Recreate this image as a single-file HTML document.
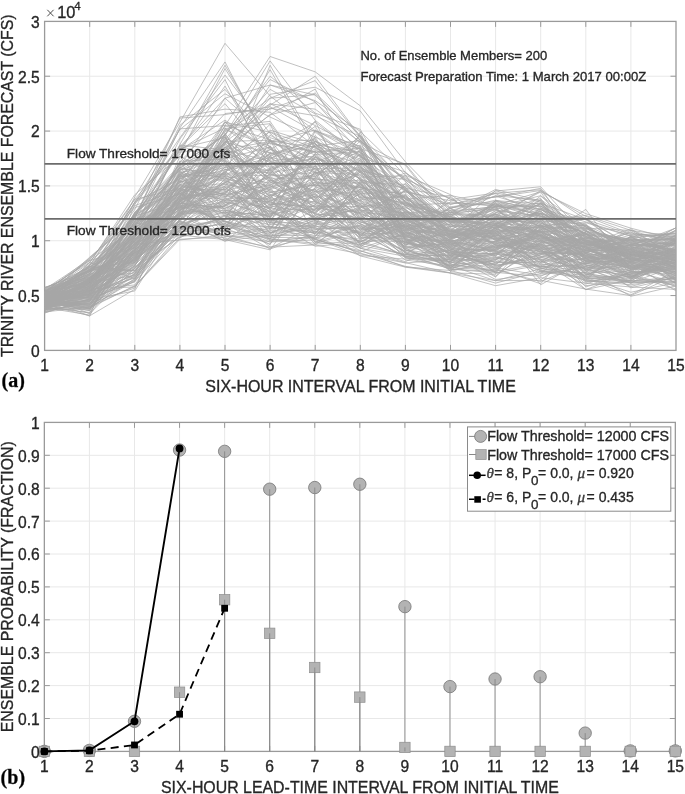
<!DOCTYPE html><html><head><meta charset="utf-8"><style>html,body{margin:0;padding:0;background:#fff;}svg{display:block;will-change:transform;filter:blur(0.35px)}</style></head><body>
<svg width="685" height="794" viewBox="0 0 685 794">
<rect width="685" height="794" fill="#fff"/>
<style>text{stroke:#262626;stroke-width:0.32px}</style>
<path d="M89.7 21.4V350.4M134.8 21.4V350.4M179.9 21.4V350.4M225 21.4V350.4M270.1 21.4V350.4M315.2 21.4V350.4M360.3 21.4V350.4M405.4 21.4V350.4M450.5 21.4V350.4M495.6 21.4V350.4M540.7 21.4V350.4M585.8 21.4V350.4M630.9 21.4V350.4M44.6 295.57H676M44.6 240.73H676M44.6 185.9H676M44.6 131.07H676M44.6 76.23H676" stroke="#e8e8e8" stroke-width="1" fill="none"/>
<path d="M89.7 350.4v-5.5M89.7 21.4v5.5M134.8 350.4v-5.5M134.8 21.4v5.5M179.9 350.4v-5.5M179.9 21.4v5.5M225 350.4v-5.5M225 21.4v5.5M270.1 350.4v-5.5M270.1 21.4v5.5M315.2 350.4v-5.5M315.2 21.4v5.5M360.3 350.4v-5.5M360.3 21.4v5.5M405.4 350.4v-5.5M405.4 21.4v5.5M450.5 350.4v-5.5M450.5 21.4v5.5M495.6 350.4v-5.5M495.6 21.4v5.5M540.7 350.4v-5.5M540.7 21.4v5.5M585.8 350.4v-5.5M585.8 21.4v5.5M630.9 350.4v-5.5M630.9 21.4v5.5M44.6 295.57h5.5M676 295.57h-5.5M44.6 240.73h5.5M676 240.73h-5.5M44.6 185.9h5.5M676 185.9h-5.5M44.6 131.07h5.5M676 131.07h-5.5M44.6 76.23h5.5M676 76.23h-5.5" stroke="#9a9a9a" stroke-width="1" fill="none"/>
<rect x="44.6" y="21.4" width="631.4" height="329" stroke="#9a9a9a" stroke-width="1.3" fill="none"/>
<path d="M44.6 297.38L89.7 306.61L134.8 273.56L179.9 183.25L225 121.49L270.1 170.8L315.2 146.09L360.3 192.57L405.4 250.07L450.5 263.61L495.6 227.2L540.7 227.75L585.8 245.2L630.9 232.64L676 240.09M44.6 296.8L89.7 271.9L134.8 230.98L179.9 214.71L225 133.13L270.1 204.35L315.2 206.49L360.3 234.62L405.4 213.73L450.5 244.34L495.6 247.65L540.7 240.51L585.8 209.39L630.9 270.44L676 248.72M44.6 299.9L89.7 284.54L134.8 262.17L179.9 210.32L225 188.07L270.1 162.79L315.2 164.45L360.3 237.1L405.4 183.15L450.5 232.56L495.6 238.62L540.7 253.85L585.8 253.12L630.9 238.51L676 250.9M44.6 306.16L89.7 292.27L134.8 267.06L179.9 230.45L225 205.07L270.1 236.18L315.2 231.46L360.3 244.83L405.4 223.83L450.5 231.81L495.6 238.55L540.7 228.36L585.8 281.81L630.9 274.15L676 265.63M44.6 300.66L89.7 295.31L134.8 215.9L179.9 202.51L225 134.64L270.1 181.14L315.2 168.73L360.3 167.95L405.4 186.94L450.5 234.01L495.6 232.98L540.7 271.54L585.8 272.53L630.9 262.3L676 260.72M44.6 307.24L89.7 287.66L134.8 260.63L179.9 174.5L225 176.86L270.1 201.2L315.2 179.8L360.3 203.31L405.4 214.02L450.5 242.22L495.6 230.84L540.7 246.58L585.8 254.8L630.9 275.15L676 259.68M44.6 304.86L89.7 306.29L134.8 242.8L179.9 191.91L225 225.09L270.1 242.03L315.2 239.8L360.3 250.87L405.4 262.65L450.5 273.04L495.6 280.67L540.7 280.31L585.8 289.09L630.9 295.58L676 275.47M44.6 289.88L89.7 272.24L134.8 202L179.9 179.07L225 158.51L270.1 209.81L315.2 135.48L360.3 180.24L405.4 188.15L450.5 197.42L495.6 229.37L540.7 236L585.8 262.81L630.9 259.54L676 252.83M44.6 303.44L89.7 304.9L134.8 246.97L179.9 220.49L225 187.45L270.1 215.42L315.2 184.87L360.3 204.89L405.4 248.63L450.5 242.43L495.6 233.57L540.7 231.26L585.8 256.86L630.9 271.35L676 274.12M44.6 307.34L89.7 312.46L134.8 251.9L179.9 235.05L225 239.58L270.1 249.83L315.2 187.26L360.3 196.12L405.4 236.08L450.5 218.75L495.6 232.48L540.7 268.49L585.8 263.52L630.9 258.34L676 276M44.6 297.02L89.7 265.29L134.8 199.32L179.9 188.41L225 228.57L270.1 244.01L315.2 190.76L360.3 226.77L405.4 230.55L450.5 233.57L495.6 241.92L540.7 230.31L585.8 255.35L630.9 279.34L676 242.55M44.6 300.32L89.7 297.38L134.8 257.55L179.9 212.37L225 236.44L270.1 235.8L315.2 235.24L360.3 239.11L405.4 221.85L450.5 217.91L495.6 244.63L540.7 251.16L585.8 276.12L630.9 249.27L676 264.4M44.6 294.36L89.7 269.71L134.8 236.84L179.9 187.89L225 142.45L270.1 152.78L315.2 173.06L360.3 240.07L405.4 215.66L450.5 236.12L495.6 242.37L540.7 244.38L585.8 231.67L630.9 241.08L676 249.33M44.6 305.19L89.7 291.28L134.8 271.99L179.9 211.22L225 212.36L270.1 214.98L315.2 181.45L360.3 235.44L405.4 225.26L450.5 230.57L495.6 231.01L540.7 264.3L585.8 267.96L630.9 265.07L676 237.12M44.6 304.78L89.7 300.26L134.8 258.78L179.9 230.17L225 223.64L270.1 249.02L315.2 232.89L360.3 183.5L405.4 244.06L450.5 212.14L495.6 206.42L540.7 261.22L585.8 276.19L630.9 280.64L676 258.98M44.6 294.11L89.7 286.85L134.8 212.1L179.9 182.6L225 162.93L270.1 205.28L315.2 189.1L360.3 248.22L405.4 256.28L450.5 267.52L495.6 270.24L540.7 243.05L585.8 276.85L630.9 276.74L676 256.54M44.6 308.56L89.7 289.18L134.8 231.07L179.9 195.37L225 165.65L270.1 166.11L315.2 194.68L360.3 221.87L405.4 233.82L450.5 230.03L495.6 203.21L540.7 247.76L585.8 273.26L630.9 280.95L676 277.11M44.6 298.38L89.7 283L134.8 249.79L179.9 161.32L225 158.77L270.1 146.87L315.2 222.58L360.3 193.46L405.4 232.38L450.5 208.36L495.6 196.21L540.7 209.81L585.8 226.78L630.9 250.82L676 227.78M44.6 311.91L89.7 307.12L134.8 280.5L179.9 177.63L225 162.97L270.1 205.8L315.2 213.08L360.3 234.24L405.4 256.18L450.5 255L495.6 255.43L540.7 231.67L585.8 279.37L630.9 273.89L676 264.61M44.6 310.1L89.7 307.89L134.8 278.62L179.9 226.07L225 238.25L270.1 247.16L315.2 244.97L360.3 253.9L405.4 262.99L450.5 259.3L495.6 243.94L540.7 232.42L585.8 263.2L630.9 273.08L676 268.01M44.6 309.46L89.7 281.42L134.8 235.9L179.9 213.76L225 205.73L270.1 187.18L315.2 176.16L360.3 204.07L405.4 236.85L450.5 223.84L495.6 256.49L540.7 213.23L585.8 233.5L630.9 273.11L676 268.56M44.6 302.64L89.7 280.27L134.8 244.98L179.9 204.92L225 221.5L270.1 232.6L315.2 229.64L360.3 225.82L405.4 260.04L450.5 265.87L495.6 280.73L540.7 268.79L585.8 273.08L630.9 271.04L676 282.07M44.6 308.29L89.7 292.93L134.8 243.29L179.9 215.88L225 160.36L270.1 227.32L315.2 228.82L360.3 227.79L405.4 254.54L450.5 250.24L495.6 267.66L540.7 275.38L585.8 266.38L630.9 277.62L676 284.91M44.6 303.9L89.7 305.09L134.8 258.21L179.9 227.52L225 220.94L270.1 240.63L315.2 237.25L360.3 253.04L405.4 266.33L450.5 272.84L495.6 274.3L540.7 247.78L585.8 282.22L630.9 276.34L676 269.07M44.6 297.69L89.7 301.33L134.8 256.61L179.9 205.49L225 206.59L270.1 152.45L315.2 168.88L360.3 194.89L405.4 216.98L450.5 251.47L495.6 248.98L540.7 235.46L585.8 228.22L630.9 230.4L676 236.53M44.6 297.02L89.7 264.37L134.8 226.85L179.9 206.69L225 191.57L270.1 177.4L315.2 220.73L360.3 232.55L405.4 214.92L450.5 242.83L495.6 241.83L540.7 208.2L585.8 221.94L630.9 235.78L676 244.62M44.6 313.11L89.7 298.68L134.8 255.25L179.9 203.19L225 208.64L270.1 187.42L315.2 242.04L360.3 247.4L405.4 210.74L450.5 249.3L495.6 250.13L540.7 253.21L585.8 264.62L630.9 274.8L676 286.05M44.6 300.83L89.7 285.8L134.8 239.63L179.9 193.61L225 149.2L270.1 196.86L315.2 217.32L360.3 199.68L405.4 247.85L450.5 242.61L495.6 272.14L540.7 224.38L585.8 274.68L630.9 282.04L676 282.49M44.6 302.28L89.7 282.61L134.8 235.89L179.9 193.1L225 233.06L270.1 200.21L315.2 242.5L360.3 219.07L405.4 246.26L450.5 244.3L495.6 234.65L540.7 220.62L585.8 268.92L630.9 283.28L676 278.16M44.6 293.3L89.7 262.98L134.8 194.67L179.9 156.18L225 180.5L270.1 202.18L315.2 209.38L360.3 162.99L405.4 187.64L450.5 244.76L495.6 255.53L540.7 216.72L585.8 225.27L630.9 261.24L676 275.18M44.6 308.07L89.7 282.29L134.8 230.8L179.9 207.34L225 199.15L270.1 207.91L315.2 144L360.3 197.95L405.4 230.54L450.5 208.02L495.6 235.89L540.7 225.43L585.8 222.72L630.9 236.3L676 234.22M44.6 304.16L89.7 278.34L134.8 238.69L179.9 217.48L225 128.53L270.1 123.69L315.2 186.08L360.3 175.01L405.4 229.86L450.5 223.97L495.6 239.5L540.7 232.36L585.8 248.01L630.9 269.27L676 246.15M44.6 304.24L89.7 294.25L134.8 277.3L179.9 214.38L225 153.79L270.1 142.99L315.2 152.34L360.3 145.28L405.4 179.92L450.5 208.6L495.6 240.9L540.7 229.98L585.8 225.4L630.9 245.17L676 227.93M44.6 304.59L89.7 265.65L134.8 225.12L179.9 199.24L225 190.6L270.1 211.52L315.2 233.85L360.3 182.92L405.4 228.94L450.5 247.44L495.6 259.04L540.7 244.1L585.8 265.37L630.9 270.43L676 249.6M44.6 294.57L89.7 299.7L134.8 290.94L179.9 218.85L225 179.54L270.1 207.6L315.2 191.36L360.3 165.55L405.4 241.92L450.5 253.18L495.6 260.13L540.7 234.84L585.8 258.14L630.9 259.04L676 272.53M44.6 303.88L89.7 274.4L134.8 260.63L179.9 205.22L225 129.45L270.1 146.21L315.2 180.95L360.3 204L405.4 247.49L450.5 237.55L495.6 236.08L540.7 245.52L585.8 252.72L630.9 236.91L676 261.66M44.6 302.08L89.7 283.26L134.8 230.64L179.9 224.27L225 211.97L270.1 173.15L315.2 190.99L360.3 214.21L405.4 226.53L450.5 237.01L495.6 227.46L540.7 203.42L585.8 238.31L630.9 263.41L676 290.88M44.6 298.62L89.7 279.6L134.8 234.98L179.9 203.34L225 213.09L270.1 234.03L315.2 209.39L360.3 200.33L405.4 231.95L450.5 268.93L495.6 254.04L540.7 259.19L585.8 285.64L630.9 281.07L676 281.9M44.6 299.09L89.7 257.18L134.8 218.61L179.9 208.87L225 137.15L270.1 218.1L315.2 137L360.3 209.33L405.4 244.87L450.5 231.25L495.6 243.17L540.7 209.62L585.8 225.39L630.9 252.69L676 252.79M44.6 302L89.7 267.05L134.8 271.08L179.9 224.78L225 191.57L270.1 213.86L315.2 196.41L360.3 206.06L405.4 246.94L450.5 196.1L495.6 237.95L540.7 241.64L585.8 234.45L630.9 241.05L676 237.48M44.6 301.12L89.7 305.48L134.8 264.92L179.9 216.35L225 181.88L270.1 205.11L315.2 196.58L360.3 229.86L405.4 226.4L450.5 268.92L495.6 272.97L540.7 265.23L585.8 280.7L630.9 282.76L676 266.06M44.6 298.9L89.7 307.66L134.8 267.45L179.9 237.1L225 227.17L270.1 212.72L315.2 226.56L360.3 231.08L405.4 218.72L450.5 221.16L495.6 215.03L540.7 191.99L585.8 258.73L630.9 276.83L676 256.62M44.6 309.5L89.7 293.56L134.8 241.29L179.9 207.05L225 141.43L270.1 140.19L315.2 170.24L360.3 245.56L405.4 254.55L450.5 255.43L495.6 279.52L540.7 273.75L585.8 267.62L630.9 286.42L676 274.7M44.6 303.19L89.7 308.58L134.8 220.8L179.9 192.03L225 138.81L270.1 179.61L315.2 207.47L360.3 243.66L405.4 234.23L450.5 252.91L495.6 225.66L540.7 267.99L585.8 278.72L630.9 294.83L676 270.64M44.6 292.41L89.7 282.12L134.8 238.94L179.9 204.23L225 173.31L270.1 172.48L315.2 166.45L360.3 197.71L405.4 214.6L450.5 216.3L495.6 240.12L540.7 260.33L585.8 289.67L630.9 272.14L676 241.48M44.6 309.34L89.7 287.58L134.8 261.68L179.9 219.48L225 181.78L270.1 232.7L315.2 215.43L360.3 189.28L405.4 253.88L450.5 269.33L495.6 271.32L540.7 263.65L585.8 250.46L630.9 231.73L676 263.02M44.6 294.27L89.7 304.56L134.8 279.3L179.9 220.75L225 241.32L270.1 206.5L315.2 144.59L360.3 152.51L405.4 218.81L450.5 237.71L495.6 229.78L540.7 196L585.8 236.15L630.9 266.67L676 271.24M44.6 296.32L89.7 308.62L134.8 251.64L179.9 217.44L225 166.67L270.1 124.35L315.2 215.41L360.3 210.3L405.4 212.74L450.5 210.39L495.6 200.12L540.7 211.52L585.8 249.2L630.9 239.84L676 269.53M44.6 305.88L89.7 290.9L134.8 250.15L179.9 212.06L225 204.49L270.1 186.15L315.2 204.45L360.3 221.67L405.4 242.87L450.5 255.23L495.6 240.84L540.7 222.09L585.8 219.24L630.9 244.94L676 231.68M44.6 287.78L89.7 270.35L134.8 253.83L179.9 215L225 176.36L270.1 182.93L315.2 161.99L360.3 213.83L405.4 258.12L450.5 261.53L495.6 223.78L540.7 252.32L585.8 253.38L630.9 274.04L676 241.55M44.6 293.47L89.7 282.55L134.8 237.23L179.9 191.39L225 151.46L270.1 174.09L315.2 191.63L360.3 187.09L405.4 227.68L450.5 238.24L495.6 232.12L540.7 227.39L585.8 261.38L630.9 261.06L676 247.53M44.6 309.11L89.7 299.13L134.8 281.6L179.9 232.07L225 227.95L270.1 168.49L315.2 217.28L360.3 233.18L405.4 224.55L450.5 254.89L495.6 223.56L540.7 226.12L585.8 252.29L630.9 264.19L676 280.98M44.6 299.24L89.7 297.33L134.8 229.16L179.9 186.5L225 225.87L270.1 236.65L315.2 220.58L360.3 193.5L405.4 192.07L450.5 200.71L495.6 197.07L540.7 188.29L585.8 251.75L630.9 267.61L676 260.42M44.6 298.63L89.7 309.37L134.8 239.68L179.9 200.37L225 186L270.1 209.33L315.2 239.92L360.3 180.63L405.4 257.66L450.5 268.42L495.6 257.02L540.7 270.26L585.8 279.79L630.9 243.93L676 260.89M44.6 298.74L89.7 284.56L134.8 215.06L179.9 185.24L225 196.48L270.1 175.98L315.2 172.71L360.3 189.78L405.4 172.96L450.5 199.56L495.6 192.96L540.7 202.08L585.8 230.1L630.9 276.76L676 262.06M44.6 294.63L89.7 295.39L134.8 252.97L179.9 213.18L225 200.55L270.1 174.29L315.2 120.91L360.3 214.74L405.4 248.38L450.5 265.46L495.6 249.19L540.7 235.14L585.8 261.17L630.9 254.23L676 258.68M44.6 300.55L89.7 310.77L134.8 245.13L179.9 188.42L225 200.29L270.1 217.26L315.2 167.35L360.3 222.95L405.4 212.36L450.5 229.26L495.6 230.38L540.7 259.33L585.8 268.23L630.9 257.95L676 251.72M44.6 299.14L89.7 283.44L134.8 248.96L179.9 231.22L225 230.07L270.1 218.58L315.2 239.12L360.3 252.11L405.4 232.51L450.5 252.93L495.6 265.12L540.7 260.93L585.8 239.49L630.9 266.57L676 273.26M44.6 291.12L89.7 278.79L134.8 245.12L179.9 190.76L225 239.97L270.1 230.84L315.2 230.87L360.3 245.37L405.4 219.62L450.5 271.44L495.6 259.3L540.7 254.02L585.8 246.16L630.9 253.68L676 241.35M44.6 306.72L89.7 290.61L134.8 254.51L179.9 204.3L225 154.08L270.1 194.27L315.2 212.54L360.3 177.54L405.4 220.04L450.5 244.63L495.6 228.51L540.7 284.77L585.8 259.83L630.9 251.41L676 255.13M44.6 296.6L89.7 296.26L134.8 273.62L179.9 201.97L225 172L270.1 198.42L315.2 157.2L360.3 178.66L405.4 239.54L450.5 262.17L495.6 268.37L540.7 239.3L585.8 244.08L630.9 250.34L676 257.32M44.6 303.72L89.7 298.39L134.8 281.86L179.9 209.97L225 155.54L270.1 224.06L315.2 227.52L360.3 248.24L405.4 233.75L450.5 254.29L495.6 232.36L540.7 226.8L585.8 244.57L630.9 249.33L676 257.75M44.6 301.83L89.7 304.43L134.8 242.06L179.9 216.53L225 140.31L270.1 190.95L315.2 218.71L360.3 204.77L405.4 242.75L450.5 225.87L495.6 227.96L540.7 250.32L585.8 238.14L630.9 247.3L676 264.92M44.6 306.08L89.7 300.09L134.8 249.9L179.9 203.84L225 182.77L270.1 154.16L315.2 146L360.3 140.58L405.4 252.87L450.5 265.77L495.6 241.02L540.7 265.22L585.8 258.19L630.9 283.29L676 255.44M44.6 302.43L89.7 284.19L134.8 234.46L179.9 175.32L225 222.52L270.1 234.46L315.2 177.39L360.3 208.07L405.4 175.44L450.5 238.51L495.6 273.32L540.7 219.7L585.8 215.52L630.9 230.37L676 243.75M44.6 303.09L89.7 301L134.8 236.69L179.9 190.52L225 212.25L270.1 222.58L315.2 223.29L360.3 241.44L405.4 226.82L450.5 216.76L495.6 235.46L540.7 237.07L585.8 272.58L630.9 235.77L676 246.63M44.6 291.58L89.7 267.91L134.8 262.66L179.9 197.22L225 213.84L270.1 179.45L315.2 214.21L360.3 217.53L405.4 190.63L450.5 222.25L495.6 208.89L540.7 202.88L585.8 243.51L630.9 237.48L676 251.95M44.6 293.12L89.7 277.67L134.8 252.93L179.9 229.66L225 224.03L270.1 239.14L315.2 243.24L360.3 230.99L405.4 251.21L450.5 227.8L495.6 249.57L540.7 212.97L585.8 271.32L630.9 251.92L676 279.16M44.6 308.33L89.7 267.08L134.8 234.32L179.9 184.59L225 175.14L270.1 198.11L315.2 217.53L360.3 197.26L405.4 197L450.5 231.64L495.6 233.43L540.7 250.1L585.8 266.59L630.9 280.91L676 256.76M44.6 305.3L89.7 310.43L134.8 247.19L179.9 173.51L225 230.48L270.1 238.82L315.2 245.02L360.3 207.86L405.4 195.08L450.5 247.68L495.6 276.28L540.7 242.16L585.8 246.6L630.9 257.17L676 273.98M44.6 297.26L89.7 274.77L134.8 246.42L179.9 182.03L225 169.77L270.1 157.5L315.2 166.24L360.3 161.94L405.4 190.48L450.5 235.54L495.6 225.01L540.7 242.24L585.8 232.74L630.9 266.03L676 254.49M44.6 311.8L89.7 301.32L134.8 236.45L179.9 193.03L225 229.4L270.1 139.53L315.2 198.15L360.3 170.5L405.4 220.39L450.5 220.34L495.6 244.96L540.7 246.88L585.8 269.83L630.9 275.52L676 262.36M44.6 303.63L89.7 292.56L134.8 242.71L179.9 228.16L225 198.69L270.1 135.17L315.2 161.91L360.3 146.38L405.4 238.09L450.5 234.18L495.6 213.63L540.7 234.03L585.8 252.26L630.9 247.02L676 278.79M44.6 296.44L89.7 298.17L134.8 266.35L179.9 178.56L225 164.84L270.1 188.44L315.2 130.67L360.3 146.36L405.4 206.96L450.5 233.4L495.6 257.49L540.7 241.16L585.8 255.98L630.9 264.18L676 272.17M44.6 290.38L89.7 276.94L134.8 247.64L179.9 197.33L225 189.55L270.1 155.94L315.2 138.58L360.3 219.25L405.4 256.85L450.5 250.46L495.6 219.26L540.7 203.94L585.8 248.73L630.9 254.26L676 260.28M44.6 296.28L89.7 273.55L134.8 222.67L179.9 232.42L225 216.16L270.1 211.04L315.2 232.1L360.3 232.39L405.4 257.39L450.5 259.69L495.6 252.81L540.7 245.34L585.8 277.5L630.9 292.25L676 282.64M44.6 298.26L89.7 280.41L134.8 225.99L179.9 171.02L225 174.74L270.1 175.64L315.2 150.61L360.3 163.62L405.4 206.62L450.5 240.95L495.6 212.33L540.7 223.14L585.8 244.17L630.9 251.96L676 269.7M44.6 303L89.7 288.85L134.8 286.96L179.9 234.35L225 230.86L270.1 168.78L315.2 151.17L360.3 201.8L405.4 245.42L450.5 213.97L495.6 245.35L540.7 249.16L585.8 284.01L630.9 269.55L676 253.61M44.6 300.96L89.7 291.34L134.8 218.75L179.9 216.2L225 235.34L270.1 241.84L315.2 236.03L360.3 191.1L405.4 227.2L450.5 241.63L495.6 249.99L540.7 236.68L585.8 249.67L630.9 265.68L676 267.75M44.6 289.29L89.7 259.63L134.8 207.52L179.9 194.18L225 175.81L270.1 146.43L315.2 202.52L360.3 213.38L405.4 229.37L450.5 258.2L495.6 200.41L540.7 238.3L585.8 250.27L630.9 263.22L676 253.78M44.6 302.66L89.7 288.79L134.8 217.12L179.9 149.32L225 128.02L270.1 160.73L315.2 180.4L360.3 230.38L405.4 195.05L450.5 239.68L495.6 251.92L540.7 253.58L585.8 269.54L630.9 236.3L676 255.11M44.6 296.06L89.7 305.99L134.8 248.48L179.9 197.49L225 125.96L270.1 121.4L315.2 187.01L360.3 140.8L405.4 179.26L450.5 198.92L495.6 222.02L540.7 221.47L585.8 256.25L630.9 268.68L676 250.27M44.6 296.66L89.7 294.69L134.8 251.3L179.9 196.42L225 141.54L270.1 172.31L315.2 141.24L360.3 159.18L405.4 213.59L450.5 230.3L495.6 237.42L540.7 249.88L585.8 278.29L630.9 280.91L676 278.98M44.6 304.4L89.7 315.8L134.8 289.26L179.9 189.08L225 164.55L270.1 221.32L315.2 246.22L360.3 242.29L405.4 217.02L450.5 249.13L495.6 262.76L540.7 262.08L585.8 234.2L630.9 268.71L676 269.6M44.6 297.97L89.7 316.15L134.8 204.4L179.9 145.79L225 161.61L270.1 170.88L315.2 211.57L360.3 169.55L405.4 231.32L450.5 250.82L495.6 210.19L540.7 235.97L585.8 270.65L630.9 243.46L676 238.31M44.6 307.56L89.7 301.94L134.8 257.67L179.9 211.95L225 149.87L270.1 161.3L315.2 193.2L360.3 172.26L405.4 232.13L450.5 246.04L495.6 205.38L540.7 191.76L585.8 213.7L630.9 228.18L676 239.72M44.6 301.39L89.7 269.59L134.8 205.59L179.9 189.67L225 189.48L270.1 203.05L315.2 206.89L360.3 206.37L405.4 208.9L450.5 265.29L495.6 259.97L540.7 225.2L585.8 243.31L630.9 251.02L676 266.28M44.6 309L89.7 306.53L134.8 286.33L179.9 239.27L225 237.12L270.1 228.47L315.2 224.93L360.3 255.92L405.4 267.15L450.5 273.09L495.6 285.7L540.7 277.68L585.8 283.15L630.9 286.97L676 289.46M44.6 291.28L89.7 291.7L134.8 238.2L179.9 209.45L225 193.56L270.1 211.43L315.2 182.3L360.3 216.89L405.4 233.14L450.5 226.81L495.6 204.3L540.7 218.97L585.8 265.14L630.9 263.76L676 256.2M44.6 293.7L89.7 293.12L134.8 278.06L179.9 199.75L225 176.25L270.1 240.89L315.2 219.06L360.3 223.57L405.4 252.34L450.5 257.78L495.6 216.79L540.7 190.65L585.8 216.36L630.9 233.66L676 236.98M44.6 298.33L89.7 265.03L134.8 237.67L179.9 181.2L225 190.12L270.1 158.22L315.2 142.8L360.3 210.68L405.4 220.69L450.5 234.34L495.6 210.82L540.7 216.59L585.8 217.83L630.9 256.07L676 259.99M44.6 292.92L89.7 274.36L134.8 213.43L179.9 176.27L225 167.77L270.1 154.73L315.2 235.53L360.3 212.11L405.4 190.89L450.5 204.5L495.6 193.57L540.7 215.19L585.8 259.14L630.9 236.85L676 257.91M44.6 297.84L89.7 279.34L134.8 254.48L179.9 172.04L225 195.96L270.1 184.19L315.2 174.66L360.3 147.07L405.4 218.7L450.5 222.18L495.6 239.43L540.7 224.67L585.8 247.79L630.9 234.89L676 233.32M44.6 292.66L89.7 281.46L134.8 221.42L179.9 208.23L225 202.65L270.1 207.14L315.2 222.8L360.3 233.88L405.4 232.9L450.5 243.56L495.6 243.78L540.7 237.9L585.8 235.48L630.9 252.58L676 227.68M44.6 297.47L89.7 281.06L134.8 231.73L179.9 190.49L225 122.23L270.1 132.29L315.2 155.29L360.3 220.55L405.4 242.74L450.5 210.66L495.6 248.13L540.7 207.96L585.8 234.63L630.9 240.07L676 252.93M44.6 297.7L89.7 276.61L134.8 261.29L179.9 195.8L225 193.93L270.1 220.61L315.2 204.91L360.3 149.24L405.4 240.16L450.5 240.48L495.6 266.17L540.7 254.58L585.8 229.29L630.9 242.77L676 250.65M44.6 308.06L89.7 290.04L134.8 256.01L179.9 194.36L225 197.48L270.1 226.26L315.2 233.07L360.3 241.11L405.4 255.6L450.5 261.62L495.6 230.45L540.7 200.06L585.8 250.99L630.9 239.04L676 245.16M44.6 295.45L89.7 275.43L134.8 241.04L179.9 167.82L225 143.82L270.1 178.88L315.2 200.15L360.3 238.6L405.4 199.65L450.5 215.72L495.6 236.57L540.7 252.15L585.8 246.11L630.9 267.3L676 286.88M44.6 309.06L89.7 309.22L134.8 253.35L179.9 194.38L225 157.28L270.1 131.79L315.2 148L360.3 177.1L405.4 175.75L450.5 212.87L495.6 189.43L540.7 200.94L585.8 261.97L630.9 243.76L676 250.05M44.6 312.66L89.7 299.01L134.8 268.47L179.9 223.17L225 235.91L270.1 248.2L315.2 224.75L360.3 217.15L405.4 229.53L450.5 263.18L495.6 253.11L540.7 273.45L585.8 235.83L630.9 260.42L676 275.92M44.6 301.7L89.7 296.32L134.8 263.04L179.9 199.16L225 192.75L270.1 152.75L315.2 198.17L360.3 227.67L405.4 243.99L450.5 247.13L495.6 251.96L540.7 205.86L585.8 253.93L630.9 269.2L676 238.93M44.6 306.82L89.7 278.56L134.8 244.23L179.9 221.69L225 170.69L270.1 215.77L315.2 141.18L360.3 161.03L405.4 199.27L450.5 239.16L495.6 220.8L540.7 240.79L585.8 286.94L630.9 272.05L676 270.88M44.6 301.54L89.7 307.92L134.8 285.68L179.9 237.75L225 215.08L270.1 239.28L315.2 153.2L360.3 210.82L405.4 239.01L450.5 271.19L495.6 226.64L540.7 240.28L585.8 260.46L630.9 267.13L676 277.15M44.6 287.49L89.7 271.42L134.8 258.58L179.9 191.63L225 172.39L270.1 140.12L315.2 220.24L360.3 241.81L405.4 216.04L450.5 241.89L495.6 226.44L540.7 211.03L585.8 246.95L630.9 269.81L676 268.21M44.6 307.25L89.7 295.84L134.8 249.23L179.9 208.18L225 143.19L270.1 192.49L315.2 184.38L360.3 200.26L405.4 221.34L450.5 248.61L495.6 264.6L540.7 228.72L585.8 224.92L630.9 272.43L676 266M44.6 307.56L89.7 315.03L134.8 250.2L179.9 206.48L225 221.05L270.1 244.72L315.2 156.55L360.3 178.45L405.4 222.04L450.5 255.92L495.6 246.33L540.7 272.31L585.8 277.22L630.9 282.32L676 281.69M44.6 301.94L89.7 266.37L134.8 270.48L179.9 236.63L225 221.17L270.1 231.19L315.2 193.14L360.3 236.12L405.4 230.78L450.5 267.92L495.6 234.66L540.7 251.17L585.8 264L630.9 246.75L676 258.52M44.6 292.44L89.7 257.99L134.8 215.48L179.9 188.07L225 183.33L270.1 141.79L315.2 159.26L360.3 165.59L405.4 219.25L450.5 240.65L495.6 239.12L540.7 262.37L585.8 245.13L630.9 228.81L676 256.98M44.6 305.08L89.7 301.36L134.8 275.68L179.9 227.16L225 169.51L270.1 164.03L315.2 201.14L360.3 223.69L405.4 246.4L450.5 256.87L495.6 265.29L540.7 257.49L585.8 241.8L630.9 250.32L676 267.51M44.6 301.33L89.7 275.7L134.8 254.94L179.9 221.25L225 240.98L270.1 235.02L315.2 226.3L360.3 131.75L405.4 239.94L450.5 246.14L495.6 215.89L540.7 232.51L585.8 251.4L630.9 241L676 239.02M44.6 293.97L89.7 273.2L134.8 219.41L179.9 226.8L225 219.25L270.1 200.83L315.2 194.56L360.3 224.09L405.4 237.61L450.5 263.15L495.6 244.71L540.7 246.98L585.8 237.87L630.9 257.65L676 229.99M44.6 295.17L89.7 313.74L134.8 268.23L179.9 215.33L225 205.65L270.1 176.73L315.2 199.65L360.3 157.48L405.4 240.08L450.5 234.78L495.6 253.55L540.7 257.53L585.8 248.96L630.9 256.51L676 243.64M44.6 308.31L89.7 296.89L134.8 227.7L179.9 176.23L225 160.05L270.1 219.09L315.2 187.95L360.3 215.46L405.4 238.1L450.5 266.94L495.6 261.01L540.7 266.57L585.8 274.36L630.9 265L676 263.74M44.6 301.89L89.7 291.01L134.8 262.17L179.9 201.93L225 169.07L270.1 184.17L315.2 206.34L360.3 219.23L405.4 249.81L450.5 256.08L495.6 257.11L540.7 266.66L585.8 265.07L630.9 278.03L676 251.72M44.6 299.65L89.7 284.9L134.8 234.82L179.9 209.9L225 147.34L270.1 181.9L315.2 203.71L360.3 185.39L405.4 218.07L450.5 213.98L495.6 217.6L540.7 219.38L585.8 247.06L630.9 271.5L676 249.05M44.6 305.34L89.7 303.27L134.8 252.28L179.9 200.52L225 225.7L270.1 226.61L315.2 233.1L360.3 188.95L405.4 210.04L450.5 246.71L495.6 236.44L540.7 204.04L585.8 254.03L630.9 255.28L676 230.28M44.6 300.36L89.7 294.23L134.8 265.68L179.9 196.01L225 162.38L270.1 213.23L315.2 208.94L360.3 171.99L405.4 250.06L450.5 262.26L495.6 228.77L540.7 279.75L585.8 249.64L630.9 261.58L676 248.65M44.6 307.89L89.7 300L134.8 244.3L179.9 239.97L225 234.79L270.1 226.77L315.2 238.68L360.3 225.67L405.4 251.5L450.5 238.88L495.6 228.49L540.7 244.4L585.8 280.41L630.9 284.75L676 277.71M44.6 291.32L89.7 260.51L134.8 227.95L179.9 190.21L225 196.41L270.1 199.59L315.2 189.39L360.3 218.04L405.4 242.31L450.5 252.83L495.6 266.84L540.7 254.9L585.8 237.02L630.9 244.44L676 243.75M44.6 295.82L89.7 273.58L134.8 220.5L179.9 169.86L225 145.36L270.1 197.73L315.2 153.76L360.3 196.73L405.4 202.58L450.5 236.32L495.6 222.86L540.7 213.7L585.8 226.87L630.9 249.72L676 249.88M44.6 298.48L89.7 284.93L134.8 241.12L179.9 179.9L225 201.77L270.1 216.56L315.2 183.71L360.3 182.68L405.4 184.4L450.5 223.23L495.6 207.66L540.7 247.33L585.8 256.41L630.9 245.05L676 247.06M44.6 305.72L89.7 270.57L134.8 259.92L179.9 170.25L225 233.26L270.1 196.22L315.2 178.37L360.3 187.18L405.4 207.85L450.5 219.18L495.6 223.41L540.7 239.41L585.8 269.42L630.9 266.03L676 262.87M44.6 300.22L89.7 295.35L134.8 246.14L179.9 172.22L225 181.25L270.1 189.59L315.2 173.81L360.3 150.56L405.4 216.68L450.5 267.65L495.6 233.71L540.7 256.33L585.8 263.5L630.9 262.85L676 272.58M44.6 309.79L89.7 303.87L134.8 251.3L179.9 196.31L225 227.15L270.1 192.09L315.2 185.05L360.3 187.9L405.4 194.45L450.5 246.08L495.6 250.47L540.7 229.19L585.8 244.61L630.9 253.25L676 284.18M44.6 305.58L89.7 313.08L134.8 237.62L179.9 185.81L225 194.08L270.1 149.24L315.2 176.14L360.3 154.8L405.4 241.02L450.5 260.82L495.6 258.73L540.7 243.07L585.8 242.4L630.9 254.3L676 266.87M44.6 300.8L89.7 269.42L134.8 257.35L179.9 195.11L225 184.29L270.1 192.06L315.2 213.1L360.3 171.38L405.4 197.72L450.5 256.49L495.6 234.95L540.7 248.21L585.8 257.55L630.9 275.69L676 288.94M44.6 310.73L89.7 285.8L134.8 243.06L179.9 210.81L225 186.43L270.1 130.19L315.2 143.76L360.3 179.67L405.4 235.29L450.5 258.84L495.6 261.88L540.7 242.49L585.8 239.81L630.9 258.28L676 258.1M44.6 295.13L89.7 268.82L134.8 270.69L179.9 214.22L225 146.68L270.1 210.77L315.2 228.94L360.3 250.57L405.4 267L450.5 270.48L495.6 283.08L540.7 271.37L585.8 275.37L630.9 255.84L676 259.53M44.6 311.52L89.7 296.09L134.8 239.99L179.9 184.34L225 194.54L270.1 185.49L315.2 158.71L360.3 236.5L405.4 189.12L450.5 232.36L495.6 214.61L540.7 270.79L585.8 266.42L630.9 256.98L676 283.25M44.6 294.77L89.7 280L134.8 259.57L179.9 156.36L225 210.49L270.1 216.57L315.2 200.74L360.3 244.57L405.4 205.05L450.5 252.11L495.6 254.16L540.7 233.74L585.8 277.68L630.9 248.61L676 241.02M44.6 305.87L89.7 289.47L134.8 284.91L179.9 218.89L225 218.75L270.1 146.2L315.2 202.06L360.3 153.43L405.4 236.81L450.5 243.5L495.6 246.35L540.7 238.25L585.8 243.07L630.9 278.23L676 254.44M44.6 295.79L89.7 288.07L134.8 246.34L179.9 206.21L225 218.8L270.1 155.96L315.2 198.64L360.3 238.05L405.4 236.24L450.5 241.56L495.6 262.88L540.7 259.03L585.8 259.35L630.9 268.23L676 264.97M44.6 297.96L89.7 287.27L134.8 221.31L179.9 181.09L225 210.97L270.1 247.01L315.2 236.63L360.3 182L405.4 223.68L450.5 254.19L495.6 264.7L540.7 229.09L585.8 256.85L630.9 262.57L676 235.08M44.6 310.01L89.7 303.19L134.8 288.03L179.9 198.98L225 186.84L270.1 233.1L315.2 218.32L360.3 208.72L405.4 234.87L450.5 249.56L495.6 269.15L540.7 237.74L585.8 241.32L630.9 256.68L676 234.71M44.6 291.68L89.7 260.47L134.8 248.03L179.9 202.94L225 208.2L270.1 189.85L315.2 214.3L360.3 159.46L405.4 245.06L450.5 219.66L495.6 237.84L540.7 262.6L585.8 250.25L630.9 261.97L676 279.83M44.6 291.18L89.7 266.52L134.8 244.07L179.9 161.25L225 223.96L270.1 189.2L315.2 154.48L360.3 151.61L405.4 228.3L450.5 236.01L495.6 225.57L540.7 249.22L585.8 289.64L630.9 279.67L676 252.31M44.6 300.03L89.7 286.16L134.8 264.62L179.9 225.31L225 178.75L270.1 169.54L315.2 208.41L360.3 212.63L405.4 215.54L450.5 251.43L495.6 277.1L540.7 227.25L585.8 248.19L630.9 245.8L676 245.65M44.6 299.43L89.7 291.9L134.8 233.84L179.9 193.48L225 177.78L270.1 195L315.2 242L360.3 229.28L405.4 222.82L450.5 239.81L495.6 212.74L540.7 198.41L585.8 260.98L630.9 254.9L676 247.52M44.6 304.6L89.7 302.49L134.8 276.42L179.9 223.12L225 200.19L270.1 201.64L315.2 226.1L360.3 228.39L405.4 212.76L450.5 259.94L495.6 272.4L540.7 276.33L585.8 252.95L630.9 278.68L676 258.66M44.6 308.8L89.7 278.98L134.8 260.31L179.9 198.21L225 198.25L270.1 198.55L315.2 244.21L360.3 240.73L405.4 241.59L450.5 250.87L495.6 268.32L540.7 283.79L585.8 231.11L630.9 239.45L676 268.55M44.6 291.92L89.7 270.35L134.8 224.22L179.9 163.93L225 147.11L270.1 182.12L315.2 185.62L360.3 220.17L405.4 186.03L450.5 212.81L495.6 209L540.7 239.41L585.8 263.6L630.9 248.51L676 263.19M44.6 302.83L89.7 286.9L134.8 256.21L179.9 228.53L225 202.86L270.1 167.66L315.2 149.04L360.3 184.15L405.4 235.31L450.5 257.56L495.6 245.5L540.7 251.78L585.8 255.03L630.9 265.79L676 273.67M44.6 295.59L89.7 280.11L134.8 223.41L179.9 198.29L225 135.21L270.1 229.61L315.2 171.31L360.3 136.3L405.4 193.28L450.5 228.95L495.6 251.5L540.7 267.4L585.8 258.23L630.9 241.66L676 255.57M44.6 304.11L89.7 303.19L134.8 271.17L179.9 201.24L225 167.18L270.1 164.33L315.2 221.18L360.3 248.16L405.4 261.71L450.5 239.27L495.6 200.61L540.7 216.37L585.8 241.71L630.9 259.54L676 261.55M44.6 306.41L89.7 296.56L134.8 280.5L179.9 226.94L225 201.42L270.1 237.39L315.2 237.87L360.3 224.76L405.4 252.97L450.5 264.86L495.6 269.75L540.7 281.58L585.8 262.52L630.9 249.05L676 280.82M44.6 306.94L89.7 277.73L134.8 272.97L179.9 230.72L225 192.75L270.1 159.61L315.2 126.31L360.3 199.43L405.4 196.01L450.5 226.03L495.6 221.35L540.7 253.45L585.8 231.48L630.9 253.3L676 271.78M44.6 293.78L89.7 290.5L134.8 212.68L179.9 167.44L225 216.47L270.1 224.62L315.2 205.21L360.3 211.92L405.4 249.76L450.5 266.53L495.6 252.68L540.7 231.13L585.8 274.21L630.9 278.97L676 263.88M44.6 304.91L89.7 297.98L134.8 263.84L179.9 207.59L225 206.66L270.1 238.46L315.2 223.3L360.3 207.01L405.4 223.23L450.5 260.7L495.6 227.76L540.7 256.51L585.8 242.24L630.9 262.75L676 269.98M44.6 288.28L89.7 267.58L134.8 216.59L179.9 152.02L225 149.53L270.1 141.4L315.2 130.1L360.3 154.73L405.4 201.18L450.5 234.81L495.6 231.03L540.7 225.37L585.8 254.1L630.9 258.99L676 243.08M44.6 299.35L89.7 283.67L134.8 240.39L179.9 209.58L225 183.7L270.1 223.5L315.2 130.98L360.3 149.6L405.4 235.36L450.5 206.79L495.6 201.49L540.7 209.12L585.8 239.78L630.9 249.68L676 280.57M44.6 303.16L89.7 308.99L134.8 248.55L179.9 174.39L225 209.2L270.1 229.58L315.2 165.19L360.3 237.67L405.4 238.61L450.5 252.11L495.6 254.08L540.7 226.63L585.8 228.15L630.9 246.48L676 264.43M44.6 301.04L89.7 290.02L134.8 240.9L179.9 201.13L225 136.56L270.1 222.53L315.2 195.51L360.3 166.8L405.4 225.76L450.5 249.71L495.6 214.01L540.7 236.77L585.8 240.27L630.9 251.99L676 263.08M44.6 299.41L89.7 293.81L134.8 201.93L179.9 148.25L225 137.58L270.1 162.83L315.2 159.43L360.3 193.85L405.4 228.51L450.5 245.2L495.6 248.35L540.7 233.26L585.8 261.91L630.9 260.52L676 254.12M44.6 299.7L89.7 271.59L134.8 252.97L179.9 221.98L225 231.77L270.1 204.41L315.2 172.41L360.3 174.65L405.4 201.12L450.5 236.59L495.6 243.09L540.7 257.07L585.8 270.81L630.9 296.26L676 285.81M44.6 300.02L89.7 294.54L134.8 274.49L179.9 224.08L225 235.16L270.1 180.29L315.2 197.11L360.3 190.78L405.4 204.11L450.5 216.6L495.6 191.04L540.7 186.74L585.8 237.15L630.9 248.45L676 236.24M44.6 304.9L89.7 286.72L134.8 269.03L179.9 212.99L225 210.33L270.1 219.98L315.2 238.81L360.3 255.56L405.4 259.11L450.5 258.55L495.6 247.29L540.7 234.66L585.8 257.67L630.9 287.88L676 277.3M44.6 309.75L89.7 281.92L134.8 275.77L179.9 229.22L225 218.31L270.1 194.9L315.2 202.14L360.3 242.98L405.4 254.59L450.5 226.34L495.6 237.06L540.7 269.33L585.8 250.79L630.9 258.76L676 267.34M44.6 302.38L89.7 288.65L134.8 225.42L179.9 167.38L225 179.04L270.1 185.55L315.2 210.9L360.3 191.76L405.4 211.4L450.5 231.45L495.6 190.42L540.7 207.09L585.8 260.68L630.9 239.78L676 245.66M44.6 287.37L89.7 277.32L134.8 214.32L179.9 170.16L225 154.59L270.1 174.72L315.2 176.92L360.3 138.43L405.4 205.46L450.5 203.03L495.6 205.19L540.7 206.06L585.8 228.61L630.9 242.47L676 235.33M44.6 303.54L89.7 285.82L134.8 259.29L179.9 223.16L225 215.33L270.1 195.15L315.2 182.14L360.3 187.19L405.4 198.13L450.5 230.18L495.6 247.24L540.7 230.91L585.8 241L630.9 257.53L676 266.92M44.6 306.95L89.7 294.12L134.8 274.82L179.9 210.77L225 171.49L270.1 149.69L315.2 122.12L360.3 157.28L405.4 171.99L450.5 210.91L495.6 206.88L540.7 195.68L585.8 226.76L630.9 252.28L676 238.42M44.6 297.18L89.7 297.62L134.8 255.59L179.9 213.51L225 214.01L270.1 219.94L315.2 227.72L360.3 246.5L405.4 224.78L450.5 264.13L495.6 271.25L540.7 222.84L585.8 243.42L630.9 255.65L676 250.99M44.6 292.64L89.7 275.65L134.8 213.65L179.9 168.97L225 173.7L270.1 208.75L315.2 209.86L360.3 167.99L405.4 222.63L450.5 247.49L495.6 219.93L540.7 248.5L585.8 233.61L630.9 259.87L676 262.68M44.6 306.37L89.7 262.42L134.8 278.78L179.9 219.44L225 151.25L270.1 178.28L315.2 178.4L360.3 135.08L405.4 202.36L450.5 233.28L495.6 202.77L540.7 215.9L585.8 230.45L630.9 254.85L676 251.71M44.6 300.2L89.7 288.28L134.8 232.97L179.9 200.19L225 122.2L270.1 149.2L315.2 163.36L360.3 186.02L405.4 237.2L450.5 248.19L495.6 250.74L540.7 267.01L585.8 246.79L630.9 267.65L676 253.86M44.6 303.13L89.7 292.34L134.8 266L179.9 177.74L225 204.26L270.1 228.12L315.2 171.96L360.3 201.65L405.4 240.96L450.5 269.83L495.6 263.34L540.7 245.3L585.8 245.61L630.9 237.94L676 233.37M44.6 293.94L89.7 286.39L134.8 196.87L179.9 122.29L225 43.33L270.1 95.97L315.2 131.07L360.3 163.97L405.4 227.52L450.5 201.91L495.6 206.27L540.7 209.43L585.8 237.16L630.9 245.74L676 241.47M44.6 293.55L89.7 269.53L134.8 222.67L179.9 127.92L225 61.98L270.1 148.83L315.2 172.35L360.3 169.62L405.4 189.88L450.5 234.15L495.6 200.64L540.7 203.79L585.8 241.23L630.9 254.92L676 249.76M44.6 298.84L89.7 289.87L134.8 235.97L179.9 144.5L225 65.27L270.1 143.76L315.2 151.47L360.3 186.73L405.4 205.29L450.5 226.71L495.6 224.53L540.7 231.18L585.8 255.73L630.9 261.3L676 257.96M44.6 295.46L89.7 268.99L134.8 215.48L179.9 153.93L225 68.56L270.1 141.53L315.2 140.09L360.3 180.11L405.4 209.84L450.5 234.52L495.6 217.8L540.7 224.55L585.8 244.19L630.9 255.49L676 241.27M44.6 300.65L89.7 265.67L134.8 203.49L179.9 137.81L225 75.14L270.1 133.38L315.2 172.43L360.3 184.05L405.4 215.83L450.5 219.3L495.6 223.97L540.7 217.67L585.8 232.76L630.9 277.5L676 249.24M44.6 309.11L89.7 279.86L134.8 227.09L179.9 139.05L225 79.52L270.1 169.38L315.2 157.37L360.3 183.33L405.4 228.64L450.5 219.32L495.6 225.33L540.7 231.51L585.8 248.78L630.9 230.44L676 255.65M44.6 310.39L89.7 291.56L134.8 224.58L179.9 149.87L225 86.1L270.1 161.23L315.2 156.01L360.3 192.96L405.4 225.67L450.5 235.8L495.6 233.19L540.7 219.13L585.8 239.9L630.9 259.48L676 254.56M44.6 296.67L89.7 258.72L134.8 218.09L179.9 125.31L225 89.39L270.1 141.04L315.2 147.12L360.3 171.31L405.4 205.57L450.5 214.38L495.6 207.14L540.7 205.98L585.8 238.04L630.9 248.84L676 230.23M44.6 302.84L89.7 274.07L134.8 202.12L179.9 129.53L225 93.78L270.1 117.08L315.2 137.11L360.3 155.07L405.4 202.5L450.5 217.69L495.6 219.25L540.7 223.22L585.8 236.2L630.9 258.72L676 242.27M44.6 289.97L89.7 262.23L134.8 199.1L179.9 146.78L225 98.17L270.1 137.66L315.2 152.55L360.3 148.42L405.4 213.3L450.5 212.5L495.6 216.52L540.7 221.46L585.8 245.26L630.9 247.65L676 252.19M44.6 295.53L89.7 270.71L134.8 232.2L179.9 147.55L225 103.65L270.1 158.12L315.2 179.53L360.3 180.76L405.4 209.3L450.5 241.04L495.6 231.7L540.7 219.66L585.8 253.26L630.9 261.77L676 240.5M44.6 288.22L89.7 284.21L134.8 218.66L179.9 116.93L225 109.13L270.1 112.24L315.2 146.47L360.3 156L405.4 221.31L450.5 234.24L495.6 225.11L540.7 199.58L585.8 231.24L630.9 258.1L676 239.19M44.6 291.79L89.7 273.67L134.8 209.49L179.9 118.09L225 114.62L270.1 106.74L315.2 132.07L360.3 166.69L405.4 198.45L450.5 223.37L495.6 209.83L540.7 216.17L585.8 233.44L630.9 239.14L676 240.3M44.6 296.89L89.7 295.61L134.8 213.13L179.9 150.35L225 120.1L270.1 153.58L315.2 141.62L360.3 171.83L405.4 216.38L450.5 237.23L495.6 226.69L540.7 232.09L585.8 227.11L630.9 266.71L676 267.31M44.6 301.47L89.7 280.66L134.8 215.88L179.9 128.9L225 125.58L270.1 139.53L315.2 168.86L360.3 206.37L405.4 203.58L450.5 216.77L495.6 227.96L540.7 211.54L585.8 241.04L630.9 242.86L676 249.64M44.6 305.68L89.7 281.74L134.8 230.33L179.9 201.01L225 125.58L270.1 56.49L315.2 71.85L360.3 105.84L405.4 161.77L450.5 207.82L495.6 202.75L540.7 236.65L585.8 250.55L630.9 249.46L676 265.52M44.6 305.12L89.7 300.97L134.8 212.84L179.9 164.82L225 135L270.1 60.88L315.2 120.31L360.3 156.24L405.4 189.03L450.5 226.86L495.6 206.81L540.7 226.41L585.8 250.33L630.9 244.63L676 255.59M44.6 301.52L89.7 293.52L134.8 262.67L179.9 176.6L225 174.71L270.1 65.27L315.2 143.84L360.3 178.86L405.4 196.87L450.5 220.98L495.6 225.48L540.7 240.53L585.8 238.51L630.9 269.56L676 261.96M44.6 308.46L89.7 294.21L134.8 231.48L179.9 191.4L225 144.05L270.1 69.65L315.2 147.8L360.3 172.24L405.4 204.55L450.5 231.76L495.6 224.53L540.7 250.05L585.8 241.22L630.9 253.66L676 260.6M44.6 305.79L89.7 281.04L134.8 234.14L179.9 164.53L225 135.38L270.1 76.23L315.2 113.11L360.3 129.32L405.4 211.81L450.5 224.79L495.6 209.26L540.7 232.07L585.8 230.09L630.9 259.77L676 249.82M44.6 301.91L89.7 281.89L134.8 222.05L179.9 168.21L225 134.49L270.1 79.52L315.2 101.86L360.3 152.85L405.4 177.81L450.5 204.04L495.6 196.95L540.7 190.52L585.8 242.69L630.9 239.84L676 239.23M44.6 294.59L89.7 270.67L134.8 251.13L179.9 166.42L225 98.17L270.1 85.01L315.2 100.69L360.3 131.38L405.4 175.2L450.5 194.67L495.6 223.84L540.7 203.26L585.8 219.66L630.9 253.11L676 243.43M44.6 291.15L89.7 271.43L134.8 223.98L179.9 202.9L225 139.32L270.1 89.39L315.2 113.98L360.3 148.63L405.4 163.97L450.5 218.95L495.6 228.02L540.7 214.2L585.8 241.84L630.9 254.3L676 252.6M44.6 296.93L89.7 281.55L134.8 245.02L179.9 175.81L225 130.78L270.1 98.17L315.2 94.71L360.3 140.22L405.4 202.09L450.5 214.87L495.6 195.56L540.7 200.38L585.8 240.37L630.9 245.92L676 257.86M44.6 309.87L89.7 283.14L134.8 234.25L179.9 174.18L225 147.92L270.1 103.65L315.2 125.56L360.3 149.42L405.4 189.55L450.5 223.24L495.6 214.63L540.7 244.09L585.8 252.09L630.9 245.59L676 243.18M44.6 296.06L89.7 278.42L134.8 237.72L179.9 162.1L225 113.5L270.1 109.13L315.2 93.05L360.3 135.43L405.4 181.78L450.5 221.9L495.6 203.93L540.7 227.18L585.8 218.99L630.9 246.34L676 256.21M44.6 292.5L89.7 270.62L134.8 234.62L179.9 145.06L225 149.87L270.1 114.62L315.2 89.09L360.3 170.83L405.4 179.74L450.5 215.09L495.6 214.22L540.7 226.32L585.8 233.26L630.9 258.42L676 257.35M44.6 297.42L89.7 277.62L134.8 241.65L179.9 187.74L225 150.06L270.1 98.17L315.2 80.62L360.3 137.7L405.4 199.14L450.5 195.42L495.6 205.42L540.7 213.26L585.8 234.47L630.9 255.43L676 259.08M44.6 304.9L89.7 290.37L134.8 250.45L179.9 205.1L225 159.15L270.1 105.15L315.2 76.23L360.3 136.7L405.4 203.52L450.5 222.02L495.6 222.78L540.7 235.37L585.8 258.41L630.9 251.76L676 261.04M44.6 293.32L89.7 278.24L134.8 217.8L179.9 173.93L225 154.34L270.1 94.29L315.2 87.2L360.3 111.03L405.4 172.78L450.5 208.43L495.6 193.17L540.7 189.68L585.8 219.41L630.9 234.72L676 239.16M44.6 299.94L89.7 281.46L134.8 239.39L179.9 188.44L225 154.64L270.1 84.99L315.2 94.88L360.3 140.32L405.4 187.87L450.5 220.92L495.6 219.28L540.7 234.95L585.8 261.35L630.9 253.09L676 267.54M44.6 300.79L89.7 284.93L134.8 227.08L179.9 166.35L225 148.29L270.1 114.93L315.2 102.55L360.3 142.86L405.4 180.89L450.5 237.11L495.6 217.43L540.7 218.42L585.8 233.27L630.9 255.36L676 252.04M44.6 304.32L89.7 287.93L134.8 257.54L179.9 181.09L225 131.95L270.1 103.88L315.2 109.13L360.3 142.14L405.4 165.27L450.5 222.34L495.6 206.26L540.7 214.18L585.8 246.09L630.9 243.09L676 250.78M44.6 299.09L89.7 278.52L134.8 235.47L179.9 184.71L225 142.18L270.1 108.24L315.2 115.71L360.3 136.46L405.4 191.26L450.5 219.69L495.6 218.94L540.7 213.12L585.8 223.98L630.9 262.33L676 248.51" stroke="#a6a6a6" stroke-width="0.7" fill="none" stroke-linejoin="miter"/>
<path d="M44.6 163.97H676M44.6 218.8H676" stroke="#6c6c6c" stroke-width="1.8" fill="none"/>
<text x="66.8" y="158.3" font-family="'Liberation Sans', sans-serif" font-size="13" fill="#262626" textLength="163.5" lengthAdjust="spacingAndGlyphs">Flow Threshold= 17000 cfs</text>
<text x="66.7" y="234.9" font-family="'Liberation Sans', sans-serif" font-size="13" fill="#262626" textLength="164.2" lengthAdjust="spacingAndGlyphs">Flow Threshold= 12000 cfs</text>
<text x="360.4" y="59.6" font-family="'Liberation Sans', sans-serif" font-size="13" fill="#262626">No. of Ensemble Members= 200</text>
<text x="360.4" y="80.9" font-family="'Liberation Sans', sans-serif" font-size="13" fill="#262626" textLength="285.8" lengthAdjust="spacingAndGlyphs">Forecast Preparation Time: 1 March 2017 00:00Z</text>
<text x="44.6" y="371.3" text-anchor="middle" font-family="'Liberation Sans', sans-serif" font-size="15.6" fill="#262626">1</text>
<text x="89.7" y="371.3" text-anchor="middle" font-family="'Liberation Sans', sans-serif" font-size="15.6" fill="#262626">2</text>
<text x="134.8" y="371.3" text-anchor="middle" font-family="'Liberation Sans', sans-serif" font-size="15.6" fill="#262626">3</text>
<text x="179.9" y="371.3" text-anchor="middle" font-family="'Liberation Sans', sans-serif" font-size="15.6" fill="#262626">4</text>
<text x="225" y="371.3" text-anchor="middle" font-family="'Liberation Sans', sans-serif" font-size="15.6" fill="#262626">5</text>
<text x="270.1" y="371.3" text-anchor="middle" font-family="'Liberation Sans', sans-serif" font-size="15.6" fill="#262626">6</text>
<text x="315.2" y="371.3" text-anchor="middle" font-family="'Liberation Sans', sans-serif" font-size="15.6" fill="#262626">7</text>
<text x="360.3" y="371.3" text-anchor="middle" font-family="'Liberation Sans', sans-serif" font-size="15.6" fill="#262626">8</text>
<text x="405.4" y="371.3" text-anchor="middle" font-family="'Liberation Sans', sans-serif" font-size="15.6" fill="#262626">9</text>
<text x="450.5" y="371.3" text-anchor="middle" font-family="'Liberation Sans', sans-serif" font-size="15.6" fill="#262626">10</text>
<text x="495.6" y="371.3" text-anchor="middle" font-family="'Liberation Sans', sans-serif" font-size="15.6" fill="#262626">11</text>
<text x="540.7" y="371.3" text-anchor="middle" font-family="'Liberation Sans', sans-serif" font-size="15.6" fill="#262626">12</text>
<text x="585.8" y="371.3" text-anchor="middle" font-family="'Liberation Sans', sans-serif" font-size="15.6" fill="#262626">13</text>
<text x="630.9" y="371.3" text-anchor="middle" font-family="'Liberation Sans', sans-serif" font-size="15.6" fill="#262626">14</text>
<text x="676" y="371.3" text-anchor="middle" font-family="'Liberation Sans', sans-serif" font-size="15.6" fill="#262626">15</text>
<text x="39.8" y="356.8" text-anchor="end" font-family="'Liberation Sans', sans-serif" font-size="15.6" fill="#262626">0</text>
<text x="39.8" y="301.97" text-anchor="end" font-family="'Liberation Sans', sans-serif" font-size="15.6" fill="#262626">0.5</text>
<text x="39.8" y="247.13" text-anchor="end" font-family="'Liberation Sans', sans-serif" font-size="15.6" fill="#262626">1</text>
<text x="39.8" y="192.3" text-anchor="end" font-family="'Liberation Sans', sans-serif" font-size="15.6" fill="#262626">1.5</text>
<text x="39.8" y="137.47" text-anchor="end" font-family="'Liberation Sans', sans-serif" font-size="15.6" fill="#262626">2</text>
<text x="39.8" y="82.63" text-anchor="end" font-family="'Liberation Sans', sans-serif" font-size="15.6" fill="#262626">2.5</text>
<text x="39.8" y="27.8" text-anchor="end" font-family="'Liberation Sans', sans-serif" font-size="15.6" fill="#262626">3</text>
<path d="M47.3 9.8L53.6 16.3M53.6 9.8L47.3 16.3" stroke="#3a3a3a" stroke-width="0.9" fill="none"/>
<text x="57.2" y="17.5" font-family="'Liberation Sans', sans-serif" font-size="16.4" fill="#262626">10</text>
<text x="74.2" y="9.6" font-family="'Liberation Sans', sans-serif" font-size="11.6" fill="#262626">4</text>
<text x="205.3" y="391.7" font-family="'Liberation Sans', sans-serif" font-size="15.9" fill="#262626" textLength="310.5" lengthAdjust="spacingAndGlyphs">SIX-HOUR INTERVAL FROM INITIAL TIME</text>
<text transform="translate(12.5 356.9) rotate(-90)" x="0" y="0" font-family="'Liberation Sans', sans-serif" font-size="15.9" fill="#262626" textLength="342.5" lengthAdjust="spacingAndGlyphs">TRINITY RIVER ENSEMBLE FORECAST (CFS)</text>
<text x="1.5" y="387.3" font-family="'Liberation Serif', serif" font-weight="bold" font-size="20" fill="#000">(a)</text>
<path d="M89.42 422.4V751.4M134.49 422.4V751.4M179.56 422.4V751.4M224.63 422.4V751.4M269.7 422.4V751.4M314.77 422.4V751.4M359.84 422.4V751.4M404.91 422.4V751.4M449.98 422.4V751.4M495.05 422.4V751.4M540.12 422.4V751.4M585.19 422.4V751.4M630.26 422.4V751.4M44.35 718.5H675.33M44.35 685.6H675.33M44.35 652.7H675.33M44.35 619.8H675.33M44.35 586.9H675.33M44.35 554H675.33M44.35 521.1H675.33M44.35 488.2H675.33M44.35 455.3H675.33" stroke="#e8e8e8" stroke-width="1" fill="none"/>
<path d="M89.42 751.4v-5.5M89.42 422.4v5.5M134.49 751.4v-5.5M134.49 422.4v5.5M179.56 751.4v-5.5M179.56 422.4v5.5M224.63 751.4v-5.5M224.63 422.4v5.5M269.7 751.4v-5.5M269.7 422.4v5.5M314.77 751.4v-5.5M314.77 422.4v5.5M359.84 751.4v-5.5M359.84 422.4v5.5M404.91 751.4v-5.5M404.91 422.4v5.5M449.98 751.4v-5.5M449.98 422.4v5.5M495.05 751.4v-5.5M495.05 422.4v5.5M540.12 751.4v-5.5M540.12 422.4v5.5M585.19 751.4v-5.5M585.19 422.4v5.5M630.26 751.4v-5.5M630.26 422.4v5.5M44.35 718.5h5.5M675.33 718.5h-5.5M44.35 685.6h5.5M675.33 685.6h-5.5M44.35 652.7h5.5M675.33 652.7h-5.5M44.35 619.8h5.5M675.33 619.8h-5.5M44.35 586.9h5.5M675.33 586.9h-5.5M44.35 554h5.5M675.33 554h-5.5M44.35 521.1h5.5M675.33 521.1h-5.5M44.35 488.2h5.5M675.33 488.2h-5.5M44.35 455.3h5.5M675.33 455.3h-5.5" stroke="#9a9a9a" stroke-width="1" fill="none"/>
<rect x="44.35" y="422.4" width="630.98" height="329" stroke="#9a9a9a" stroke-width="1.3" fill="none"/>
<circle cx="44.35" cy="751.4" r="6.2" fill="#b3b3b3" stroke="#747474" stroke-width="0.8"/>
<circle cx="89.42" cy="750.41" r="6.2" fill="#b3b3b3" stroke="#747474" stroke-width="0.8"/>
<circle cx="134.49" cy="721.3" r="6.2" fill="#b3b3b3" stroke="#747474" stroke-width="0.8"/>
<circle cx="179.56" cy="450.04" r="6.2" fill="#b3b3b3" stroke="#747474" stroke-width="0.8"/>
<circle cx="224.63" cy="451.35" r="6.2" fill="#b3b3b3" stroke="#747474" stroke-width="0.8"/>
<circle cx="269.7" cy="489.19" r="6.2" fill="#b3b3b3" stroke="#747474" stroke-width="0.8"/>
<circle cx="314.77" cy="487.54" r="6.2" fill="#b3b3b3" stroke="#747474" stroke-width="0.8"/>
<circle cx="359.84" cy="484.25" r="6.2" fill="#b3b3b3" stroke="#747474" stroke-width="0.8"/>
<circle cx="404.91" cy="606.64" r="6.2" fill="#b3b3b3" stroke="#747474" stroke-width="0.8"/>
<circle cx="449.98" cy="686.59" r="6.2" fill="#b3b3b3" stroke="#747474" stroke-width="0.8"/>
<circle cx="495.05" cy="679.02" r="6.2" fill="#b3b3b3" stroke="#747474" stroke-width="0.8"/>
<circle cx="540.12" cy="676.72" r="6.2" fill="#b3b3b3" stroke="#747474" stroke-width="0.8"/>
<circle cx="585.19" cy="733.11" r="6.2" fill="#b3b3b3" stroke="#747474" stroke-width="0.8"/>
<circle cx="630.26" cy="750.91" r="6.2" fill="#b3b3b3" stroke="#747474" stroke-width="0.8"/>
<circle cx="675.33" cy="750.91" r="6.2" fill="#b3b3b3" stroke="#747474" stroke-width="0.8"/>
<path d="M134.49 751.4V721.3" stroke="#878787" stroke-width="0.9"/>
<path d="M179.56 751.4V450.04" stroke="#878787" stroke-width="0.9"/>
<path d="M224.63 751.4V451.35" stroke="#878787" stroke-width="0.9"/>
<path d="M269.7 751.4V489.19" stroke="#878787" stroke-width="0.9"/>
<path d="M314.77 751.4V487.54" stroke="#878787" stroke-width="0.9"/>
<path d="M359.84 751.4V484.25" stroke="#878787" stroke-width="0.9"/>
<path d="M404.91 751.4V606.64" stroke="#878787" stroke-width="0.9"/>
<path d="M449.98 751.4V686.59" stroke="#878787" stroke-width="0.9"/>
<path d="M495.05 751.4V679.02" stroke="#878787" stroke-width="0.9"/>
<path d="M540.12 751.4V676.72" stroke="#878787" stroke-width="0.9"/>
<path d="M585.19 751.4V733.11" stroke="#878787" stroke-width="0.9"/>
<rect x="39.15" y="746.2" width="10.4" height="10.4" fill="#b3b3b3" stroke="#8e8e8e" stroke-width="0.7"/>
<rect x="84.22" y="746.2" width="10.4" height="10.4" fill="#b3b3b3" stroke="#8e8e8e" stroke-width="0.7"/>
<rect x="129.29" y="746.2" width="10.4" height="10.4" fill="#b3b3b3" stroke="#8e8e8e" stroke-width="0.7"/>
<rect x="174.36" y="686.98" width="10.4" height="10.4" fill="#b3b3b3" stroke="#8e8e8e" stroke-width="0.7"/>
<rect x="219.43" y="594.53" width="10.4" height="10.4" fill="#b3b3b3" stroke="#8e8e8e" stroke-width="0.7"/>
<rect x="264.5" y="628.09" width="10.4" height="10.4" fill="#b3b3b3" stroke="#8e8e8e" stroke-width="0.7"/>
<rect x="309.57" y="662.3" width="10.4" height="10.4" fill="#b3b3b3" stroke="#8e8e8e" stroke-width="0.7"/>
<rect x="354.64" y="691.91" width="10.4" height="10.4" fill="#b3b3b3" stroke="#8e8e8e" stroke-width="0.7"/>
<rect x="399.71" y="742.25" width="10.4" height="10.4" fill="#b3b3b3" stroke="#8e8e8e" stroke-width="0.7"/>
<rect x="444.78" y="746.2" width="10.4" height="10.4" fill="#b3b3b3" stroke="#8e8e8e" stroke-width="0.7"/>
<rect x="489.85" y="746.2" width="10.4" height="10.4" fill="#b3b3b3" stroke="#8e8e8e" stroke-width="0.7"/>
<rect x="534.92" y="746.2" width="10.4" height="10.4" fill="#b3b3b3" stroke="#8e8e8e" stroke-width="0.7"/>
<rect x="579.99" y="746.2" width="10.4" height="10.4" fill="#b3b3b3" stroke="#8e8e8e" stroke-width="0.7"/>
<rect x="625.06" y="746.2" width="10.4" height="10.4" fill="#b3b3b3" stroke="#8e8e8e" stroke-width="0.7"/>
<rect x="670.13" y="746.2" width="10.4" height="10.4" fill="#b3b3b3" stroke="#8e8e8e" stroke-width="0.7"/>
<path d="M179.56 751.4V692.18" stroke="#878787" stroke-width="0.9"/>
<path d="M224.63 751.4V599.73" stroke="#878787" stroke-width="0.9"/>
<path d="M269.7 751.4V633.29" stroke="#878787" stroke-width="0.9"/>
<path d="M314.77 751.4V667.5" stroke="#878787" stroke-width="0.9"/>
<path d="M359.84 751.4V697.12" stroke="#878787" stroke-width="0.9"/>
<path d="M404.91 751.4V747.45" stroke="#878787" stroke-width="0.9"/>
<polyline points="44.35,751.4 89.42,750.41 134.49,721.3 179.56,448.39" stroke="#000" stroke-width="1.9" fill="none"/>
<circle cx="44.35" cy="751.4" r="3.9" fill="#000"/>
<circle cx="89.42" cy="750.41" r="3.9" fill="#000"/>
<circle cx="134.49" cy="721.3" r="3.9" fill="#000"/>
<circle cx="179.56" cy="448.39" r="3.9" fill="#000"/>
<polyline points="44.35,751.4 89.42,750.74 134.49,744.98 179.56,714.22 224.63,608.28" stroke="#000" stroke-width="1.8" fill="none" stroke-dasharray="8 5.3"/>
<rect x="40.95" y="748" width="6.8" height="6.8" fill="#000"/>
<rect x="86.02" y="747.34" width="6.8" height="6.8" fill="#000"/>
<rect x="131.09" y="741.58" width="6.8" height="6.8" fill="#000"/>
<rect x="176.16" y="710.82" width="6.8" height="6.8" fill="#000"/>
<rect x="221.23" y="604.88" width="6.8" height="6.8" fill="#000"/>
<text x="44.35" y="772.3" text-anchor="middle" font-family="'Liberation Sans', sans-serif" font-size="15.6" fill="#262626">1</text>
<text x="89.42" y="772.3" text-anchor="middle" font-family="'Liberation Sans', sans-serif" font-size="15.6" fill="#262626">2</text>
<text x="134.49" y="772.3" text-anchor="middle" font-family="'Liberation Sans', sans-serif" font-size="15.6" fill="#262626">3</text>
<text x="179.56" y="772.3" text-anchor="middle" font-family="'Liberation Sans', sans-serif" font-size="15.6" fill="#262626">4</text>
<text x="224.63" y="772.3" text-anchor="middle" font-family="'Liberation Sans', sans-serif" font-size="15.6" fill="#262626">5</text>
<text x="269.7" y="772.3" text-anchor="middle" font-family="'Liberation Sans', sans-serif" font-size="15.6" fill="#262626">6</text>
<text x="314.77" y="772.3" text-anchor="middle" font-family="'Liberation Sans', sans-serif" font-size="15.6" fill="#262626">7</text>
<text x="359.84" y="772.3" text-anchor="middle" font-family="'Liberation Sans', sans-serif" font-size="15.6" fill="#262626">8</text>
<text x="404.91" y="772.3" text-anchor="middle" font-family="'Liberation Sans', sans-serif" font-size="15.6" fill="#262626">9</text>
<text x="449.98" y="772.3" text-anchor="middle" font-family="'Liberation Sans', sans-serif" font-size="15.6" fill="#262626">10</text>
<text x="495.05" y="772.3" text-anchor="middle" font-family="'Liberation Sans', sans-serif" font-size="15.6" fill="#262626">11</text>
<text x="540.12" y="772.3" text-anchor="middle" font-family="'Liberation Sans', sans-serif" font-size="15.6" fill="#262626">12</text>
<text x="585.19" y="772.3" text-anchor="middle" font-family="'Liberation Sans', sans-serif" font-size="15.6" fill="#262626">13</text>
<text x="630.26" y="772.3" text-anchor="middle" font-family="'Liberation Sans', sans-serif" font-size="15.6" fill="#262626">14</text>
<text x="675.33" y="772.3" text-anchor="middle" font-family="'Liberation Sans', sans-serif" font-size="15.6" fill="#262626">15</text>
<text x="39.8" y="757.8" text-anchor="end" font-family="'Liberation Sans', sans-serif" font-size="15.6" fill="#262626">0</text>
<text x="39.8" y="724.9" text-anchor="end" font-family="'Liberation Sans', sans-serif" font-size="15.6" fill="#262626">0.1</text>
<text x="39.8" y="692" text-anchor="end" font-family="'Liberation Sans', sans-serif" font-size="15.6" fill="#262626">0.2</text>
<text x="39.8" y="659.1" text-anchor="end" font-family="'Liberation Sans', sans-serif" font-size="15.6" fill="#262626">0.3</text>
<text x="39.8" y="626.2" text-anchor="end" font-family="'Liberation Sans', sans-serif" font-size="15.6" fill="#262626">0.4</text>
<text x="39.8" y="593.3" text-anchor="end" font-family="'Liberation Sans', sans-serif" font-size="15.6" fill="#262626">0.5</text>
<text x="39.8" y="560.4" text-anchor="end" font-family="'Liberation Sans', sans-serif" font-size="15.6" fill="#262626">0.6</text>
<text x="39.8" y="527.5" text-anchor="end" font-family="'Liberation Sans', sans-serif" font-size="15.6" fill="#262626">0.7</text>
<text x="39.8" y="494.6" text-anchor="end" font-family="'Liberation Sans', sans-serif" font-size="15.6" fill="#262626">0.8</text>
<text x="39.8" y="461.7" text-anchor="end" font-family="'Liberation Sans', sans-serif" font-size="15.6" fill="#262626">0.9</text>
<text x="39.8" y="428.8" text-anchor="end" font-family="'Liberation Sans', sans-serif" font-size="15.6" fill="#262626">1</text>
<text x="161" y="792.6" font-family="'Liberation Sans', sans-serif" font-size="15.9" fill="#262626" textLength="397.8" lengthAdjust="spacingAndGlyphs">SIX-HOUR LEAD-TIME INTERVAL FROM INITIAL TIME</text>
<text transform="translate(12.5 732.3) rotate(-90)" x="0" y="0" font-family="'Liberation Sans', sans-serif" font-size="15.9" fill="#262626" textLength="291.2" lengthAdjust="spacingAndGlyphs">ENSEMBLE PROBABILITY (FRACTION)</text>
<text x="0.6" y="783.6" font-family="'Liberation Serif', serif" font-weight="bold" font-size="20" fill="#000">(b)</text>
<rect x="467.5" y="426.9" width="203.3" height="84.3" fill="#fff" stroke="#8a8a8a" stroke-width="1"/>
<path d="M469 436.4H480M469 454.5H480" stroke="#878787" stroke-width="1"/>
<circle cx="480.6" cy="436.4" r="6.0" fill="#b3b3b3" stroke="#747474" stroke-width="0.8"/>
<rect x="475.8" y="449.6" width="10.4" height="10" fill="#b3b3b3" stroke="#909090" stroke-width="0.7"/>
<text x="487.2" y="441.3" font-family="'Liberation Sans', sans-serif" font-size="14.2" fill="#262626" textLength="181.8" lengthAdjust="spacingAndGlyphs">Flow Threshold= 12000 CFS</text>
<text x="487.2" y="459.6" font-family="'Liberation Sans', sans-serif" font-size="14.2" fill="#262626" textLength="181.8" lengthAdjust="spacingAndGlyphs">Flow Threshold= 17000 CFS</text>
<path d="M469 475.3H485.6" stroke="#000" stroke-width="1.5"/>
<circle cx="477.2" cy="475.3" r="3.8" fill="#000"/>
<path d="M469 499.3H474.5M482.6 499.3H485.6" stroke="#000" stroke-width="1.5"/>
<rect x="474.3" y="496.2" width="6.6" height="6.5" fill="#000"/>
<text x="486.6" y="477.5" font-family="'Liberation Serif', serif" font-style="italic" font-size="15" fill="#444" stroke="none">θ</text><text x="494.3" y="477.5" font-family="'Liberation Sans', sans-serif" font-size="14" fill="#262626">= 8, P</text><text x="531.0" y="485.0" font-family="'Liberation Sans', sans-serif" font-size="13.4" fill="#262626">0</text><text x="538.1" y="477.5" font-family="'Liberation Sans', sans-serif" font-size="14" fill="#262626">= 0.0,</text><text x="577.6" y="477.5" font-family="'Liberation Serif', serif" font-style="italic" font-size="15" fill="#444" stroke="none">μ</text><text x="586.6" y="477.5" font-family="'Liberation Sans', sans-serif" font-size="14" fill="#262626">= 0.920</text>
<text x="486.6" y="501.6" font-family="'Liberation Serif', serif" font-style="italic" font-size="15" fill="#444" stroke="none">θ</text><text x="494.3" y="501.6" font-family="'Liberation Sans', sans-serif" font-size="14" fill="#262626">= 6, P</text><text x="531.0" y="509.1" font-family="'Liberation Sans', sans-serif" font-size="13.4" fill="#262626">0</text><text x="538.1" y="501.6" font-family="'Liberation Sans', sans-serif" font-size="14" fill="#262626">= 0.0,</text><text x="577.6" y="501.6" font-family="'Liberation Serif', serif" font-style="italic" font-size="15" fill="#444" stroke="none">μ</text><text x="586.6" y="501.6" font-family="'Liberation Sans', sans-serif" font-size="14" fill="#262626">= 0.435</text>
</svg></body></html>
